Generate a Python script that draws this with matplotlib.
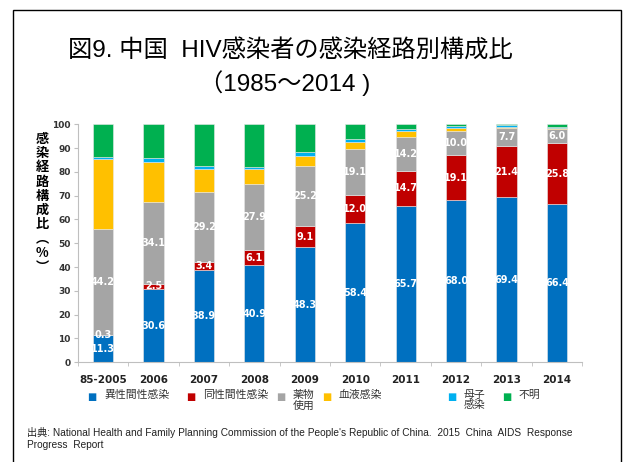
import matplotlib
matplotlib.use("Agg")
import matplotlib.pyplot as plt
import numpy as np
from matplotlib.patches import Rectangle

plt.rcParams['font.family'] = ['Noto Sans CJK JP', 'DejaVu Sans']

years = ['85-2005', '2006', '2007', '2008', '2009', '2010', '2011', '2012', '2013', '2014']
hetero = [11.3, 30.6, 38.9, 40.9, 48.3, 58.4, 65.7, 68.0, 69.4, 66.4]
homo = [0.3, 2.5, 3.4, 6.1, 9.1, 12.0, 14.7, 19.1, 21.4, 25.8]
drug = [44.2, 34.1, 29.2, 27.9, 25.2, 19.1, 14.2, 10.0, 7.7, 6.0]
blood = [29.5, 17.1, 9.6, 6.2, 4.2, 3.1, 2.5, 1.5, 0.3, 0.3]
mother = [1.0, 1.4, 1.4, 1.1, 1.6, 1.1, 0.9, 0.8, 1.0, 0.5]
unknown = [13.7, 14.3, 17.5, 17.8, 11.6, 6.3, 2.0, 0.6, 0.2, 1.0]

series = [hetero, homo, drug, blood, mother, unknown]
names = ['異性間性感染', '同性間性感染', '薬物\n使用', '血液感染', '母子\n感染', '不明']
colors = ['#0070C0', '#C00000', '#A5A5A5', '#FFC000', '#00B0F0', '#00B050']
labelled = [True, True, True, False, False, False]

fig = plt.figure(figsize=(6.23, 4.62), dpi=100)
ax = fig.add_axes([0.1249, 0.2158, 0.8096, 0.5152])

x = np.arange(len(years))
bottom = np.zeros(len(years))
for vals, col, lab in zip(series, colors, labelled):
    v = np.array(vals)
    ax.bar(x, v, 0.4, bottom=bottom, color=col, edgecolor='#E8E8E8',
           linewidth=0.4, zorder=2)
    if lab:
        for xi, b, h in zip(x, bottom, v):
            ax.text(xi, b + h / 2, f'{h:.1f}', ha='center', va='center',
                    color='white', fontsize=7, fontweight='bold',
                    family='DejaVu Sans', zorder=3)
    bottom += v

ax.set_xlim(-0.5, len(years) - 0.5)
ax.set_ylim(0, 100)
ax.set_yticks(range(0, 101, 10))
ax.set_xticks(x)
ax.set_xticklabels(years, fontsize=7.5, fontweight='bold', family='DejaVu Sans',
                   color='#222222')
ax.set_xticks(np.arange(-0.5, len(years)), minor=True)
ax.tick_params(axis='x', which='major', length=0, pad=9)
ax.tick_params(axis='x', which='minor', length=3, color='#BFBFBF')
ax.tick_params(axis='y', length=3, color='#BFBFBF', labelsize=6.5, pad=2,
               labelcolor='#333333')
for t in ax.get_yticklabels():
    t.set_fontweight('bold')
    t.set_family('DejaVu Sans')
for s in ['top', 'right']:
    ax.spines[s].set_visible(False)
for s in ['left', 'bottom']:
    ax.spines[s].set_color('#BFBFBF')
    ax.spines[s].set_linewidth(0.8)

# y label, stacked characters
fig.text(42 / 623, 1 - 203 / 462, '感\n染\n経\n路\n構\n成\n比\n︵\n%\n︶',
         ha='center', va='center', fontsize=9.5, fontweight='bold', linespacing=1.02)

# title
title_font = ['Liberation Sans', 'Noto Sans CJK JP']
fig.text(290 / 623, 1 - 50 / 462, '図9. 中国  HIV感染者の感染経路別構成比',
         ha='center', va='center', fontsize=17.5, family=title_font)
fig.text(285 / 623, 1 - 83 / 462, '（1985～2014 )',
         ha='center', va='center', fontsize=17.5, family=title_font)

# legend
leg_x = [92, 191, 281, 327, 452, 507]
for lx, name, col in zip(leg_x, names, colors):
    fig.text(lx / 623, 1 - 397 / 462, '■', color=col, fontsize=7,
             ha='center', va='center', family='DejaVu Sans')
    fig.text((lx + 12) / 623, 1 - 390 / 462, name, color='#333333', fontsize=7.8,
             ha='left', va='top', linespacing=1.05)

# source
fig.text(27 / 623, 1 - 438 / 462,
         "出典: National Health and Family Planning Commission of the People's Republic of China.  2015  China  AIDS  Response\nProgress  Report",
         fontsize=7.3, ha='left', va='center', linespacing=1.25,
         family=['Liberation Sans', 'Noto Sans CJK JP'], color='#222222')

# frame
fig.patches.append(Rectangle((13 / 623, -0.02), 608 / 623, 1 - 10 / 462 + 0.02,
                             transform=fig.transFigure, fill=False,
                             edgecolor='black', linewidth=1.0))

fig.savefig('out.png', dpi=100)
